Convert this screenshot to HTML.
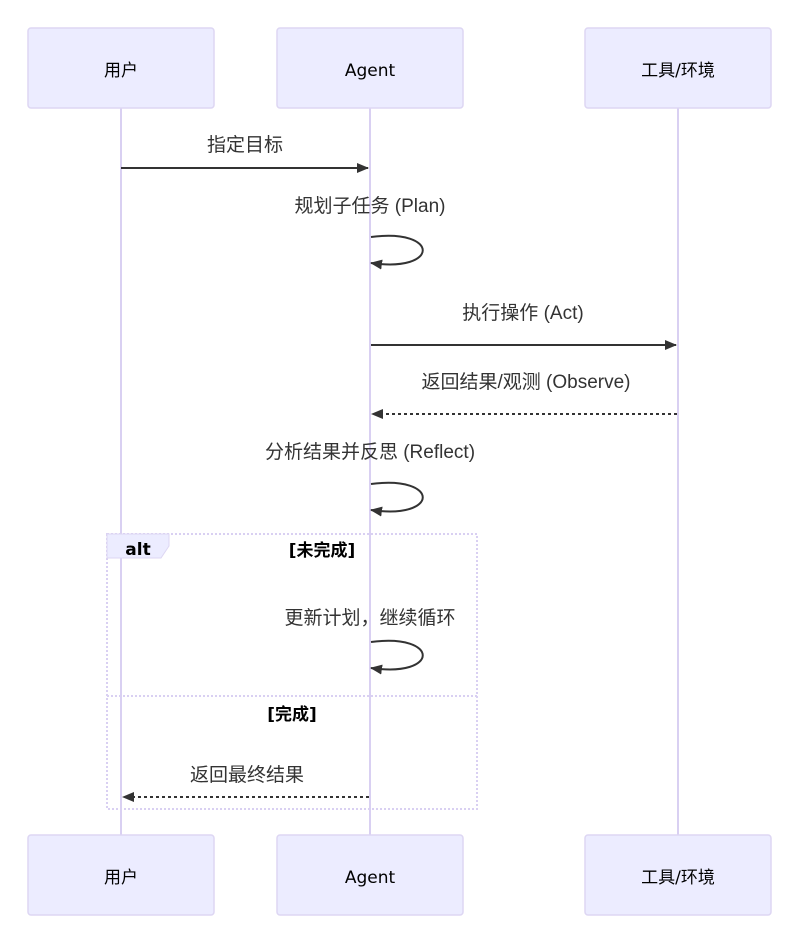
<!DOCTYPE html>
<html><head><meta charset="utf-8"><style>
body{margin:0;background:#fff}
text{font-family:"Liberation Sans","Noto Sans CJK SC",sans-serif;font-size:19px;fill:#333}
.a{font-family:"DejaVu Sans","Noto Sans CJK SC",sans-serif;fill:#000;font-size:17px}
</style></head><body>
<svg width="801" height="945" xmlns="http://www.w3.org/2000/svg">
<defs>
<marker id="ar" markerWidth="12" markerHeight="12" refX="11" refY="6" orient="auto" markerUnits="userSpaceOnUse"><path d="M0,1 L12,6 L0,11 z" fill="#333"/></marker>
</defs>
<g stroke="#d9d0f2" stroke-width="2"><line x1="121" y1="108" x2="121" y2="835"/><line x1="370" y1="108" x2="370" y2="835"/><line x1="678" y1="108" x2="678" y2="835"/></g>
<g fill="#ececff" stroke="#ddd6f3" stroke-width="1.5">
<rect x="28" y="28" width="186" height="80" rx="3"/><rect x="277" y="28" width="186" height="80" rx="3"/><rect x="585" y="28" width="186" height="80" rx="3"/>
<rect x="28" y="835" width="186" height="80" rx="3"/><rect x="277" y="835" width="186" height="80" rx="3"/><rect x="585" y="835" width="186" height="80" rx="3"/>
</g>
<g text-anchor="middle">
<text class="a" x="121" y="76">用户</text><text class="a" x="370" y="76">Agent</text><text class="a" x="678" y="76">工具/环境</text>
<text class="a" x="121" y="883">用户</text><text class="a" x="370" y="883">Agent</text><text class="a" x="678" y="883">工具/环境</text>
</g>
<g text-anchor="middle">
<text x="245" y="151">指定目标</text>
<text x="370" y="212">规划子任务 (Plan)</text>
<text x="523" y="319">执行操作 (Act)</text>
<text x="526" y="388">返回结果/观测 (Observe)</text>
<text x="370" y="458">分析结果并反思 (Reflect)</text>
<text x="370" y="624">更新计划，继续循环</text>
<text x="247" y="781">返回最终结果</text>
<text x="322" y="556" class="a" style="font-weight:bold">[未完成]</text>
<text x="292" y="720" class="a" style="font-weight:bold">[完成]</text>
</g>
<g stroke="#333" stroke-width="2" fill="none">
<line x1="121" y1="168" x2="368" y2="168" marker-end="url(#ar)"/>
<path d="M371,237 C440,228 440,273 371,263" marker-end="url(#ar)"/>
<line x1="371" y1="345" x2="676" y2="345" marker-end="url(#ar)"/>
<line x1="677" y1="414" x2="372" y2="414" stroke-dasharray="3,3" marker-end="url(#ar)"/>
<path d="M371,484 C440,475 440,520 371,510" marker-end="url(#ar)"/>
<path d="M371,642 C440,633 440,678 371,668" marker-end="url(#ar)"/>
<line x1="369" y1="797" x2="123" y2="797" stroke-dasharray="3,3" marker-end="url(#ar)"/>
</g>
<g stroke="#d9d0f2" stroke-width="2" fill="none" stroke-dasharray="2,2">
<rect x="107" y="534" width="370" height="275"/>
<line x1="107" y1="696" x2="477" y2="696"/>
</g>
<path d="M107,534 H169 V546 L161,558 H107 z" fill="#ececff" stroke="#ddd6f3"/>
<text x="138" y="555" text-anchor="middle" class="a" style="font-weight:bold">alt</text>
</svg>
</body></html>
